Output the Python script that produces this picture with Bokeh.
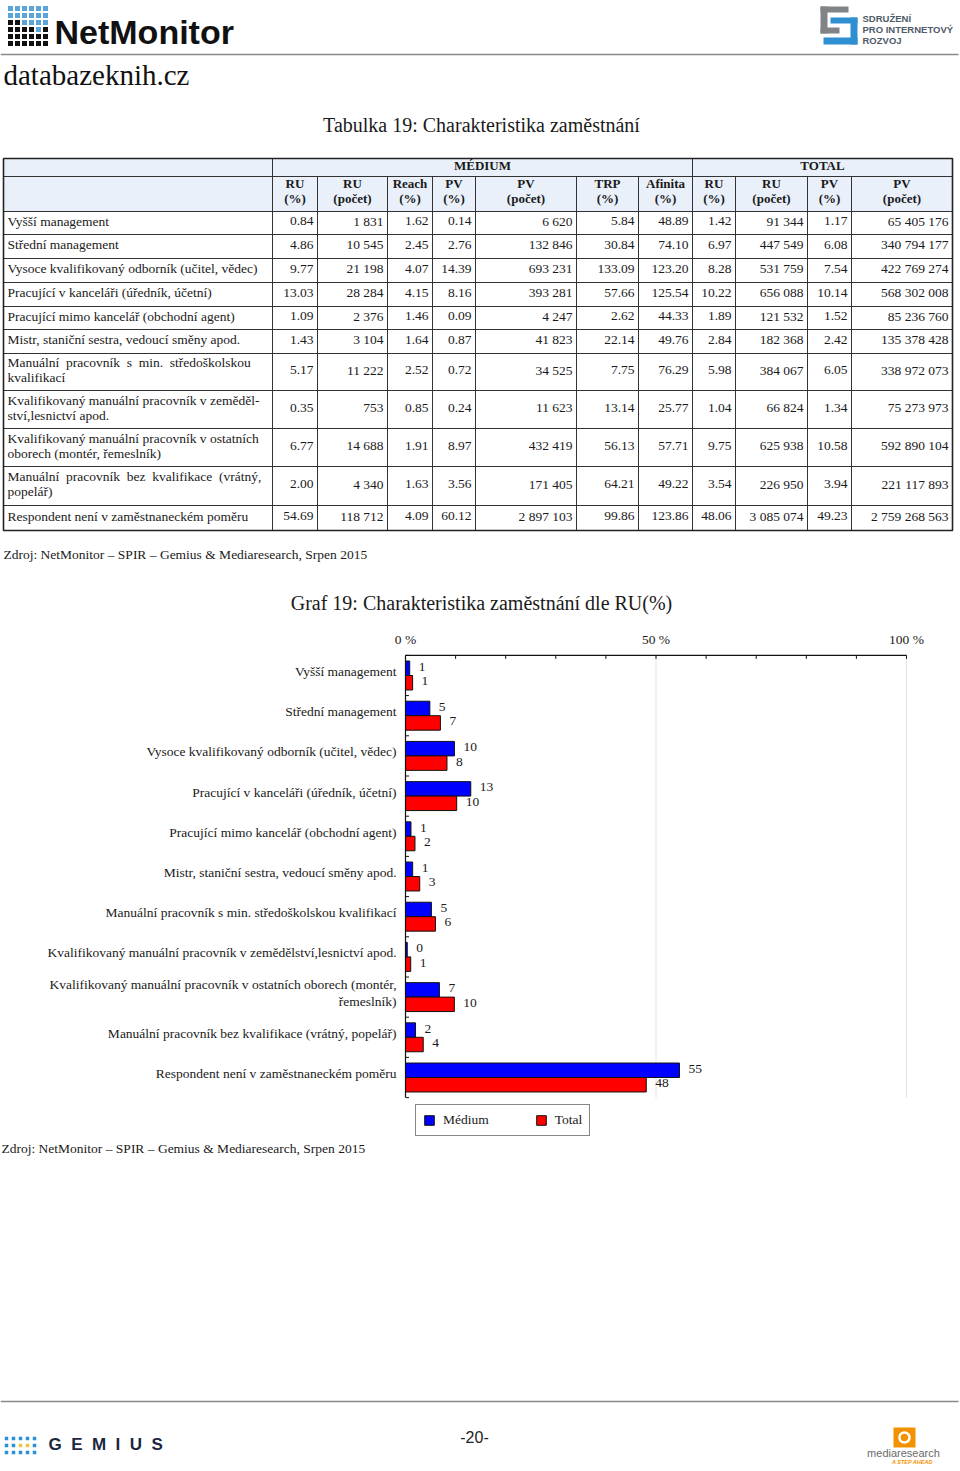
from bokeh.plotting import figure
from bokeh.models import Range1d, ColumnDataSource, Legend, LegendItem
from bokeh.core.properties import value
from bokeh.transform import dodge
from bokeh.embed import file_html
from bokeh.resources import INLINE

# ---------------- data ----------------
categories = [
    "Vyšší management",
    "Střední management",
    "Vysoce kvalifikovaný odborník (učitel, vědec)",
    "Pracující v kanceláři (úředník, účetní)",
    "Pracující mimo kancelář (obchodní agent)",
    "Mistr, staniční sestra, vedoucí směny apod.",
    "Manuální pracovník s min. středoškolskou kvalifikací",
    "Kvalifikovaný manuální pracovník v zemědělství,lesnictví apod.",
    "Kvalifikovaný manuální pracovník v ostatních oborech (montér,\nřemeslník)",
    "Manuální pracovník bez kvalifikace (vrátný, popelář)",
    "Respondent není v zaměstnaneckém poměru",
]
table_labels = [
    "Vyšší management",
    "Střední management",
    "Vysoce kvalifikovaný odborník (učitel, vědec)",
    "Pracující v kanceláři (úředník, účetní)",
    "Pracující mimo kancelář (obchodní agent)",
    "Mistr, staniční sestra, vedoucí směny apod.",
    "Manuální\u00a0 pracovník\u00a0 s\u00a0 min.\u00a0 středoškolskou\nkvalifikací",
    "Kvalifikovaný manuální pracovník v zeměděl-\nství,lesnictví apod.",
    "Kvalifikovaný manuální pracovník v ostatních\noborech (montér, řemeslník)",
    "Manuální\u00a0 pracovník\u00a0 bez\u00a0 kvalifikace\u00a0 (vrátný,\npopelář)",
    "Respondent není v zaměstnaneckém poměru",
]
medium_ru_pct = [0.84, 4.86, 9.77, 13.03, 1.09, 1.43, 5.17, 0.35, 6.77, 2.00, 54.69]
medium_ru_cnt = [1831, 10545, 21198, 28284, 2376, 3104, 11222, 753, 14688, 4340, 118712]
medium_reach = [1.62, 2.45, 4.07, 4.15, 1.46, 1.64, 2.52, 0.85, 1.91, 1.63, 4.09]
medium_pv_pct = [0.14, 2.76, 14.39, 8.16, 0.09, 0.87, 0.72, 0.24, 8.97, 3.56, 60.12]
medium_pv_cnt = [6620, 132846, 693231, 393281, 4247, 41823, 34525, 11623, 432419, 171405, 2897103]
medium_trp = [5.84, 30.84, 133.09, 57.66, 2.62, 22.14, 7.75, 13.14, 56.13, 64.21, 99.86]
medium_afinita = [48.89, 74.10, 123.20, 125.54, 44.33, 49.76, 76.29, 25.77, 57.71, 49.22, 123.86]
total_ru_pct = [1.42, 6.97, 8.28, 10.22, 1.89, 2.84, 5.98, 1.04, 9.75, 3.54, 48.06]
total_ru_cnt = [91344, 447549, 531759, 656088, 121532, 182368, 384067, 66824, 625938, 226950, 3085074]
total_pv_pct = [1.17, 6.08, 7.54, 10.14, 1.52, 2.42, 6.05, 1.34, 10.58, 3.94, 49.23]
total_pv_cnt = [65405176, 340794177, 422769274, 568302008, 85236760, 135378428, 338972073,
                75273973, 592890104, 221117893, 2759268563]
header_labels = ["RU\n(%)", "RU\n(počet)", "Reach\n(%)", "PV\n(%)", "PV\n(počet)", "TRP\n(%)",
                 "Afinita\n(%)", "RU\n(%)", "RU\n(počet)", "PV\n(%)", "PV\n(počet)"]
axis_ticks = [0, 50, 100]
axis_tick_labels = ["0 %", "50 %", "100 %"]

SERIF = "Liberation Serif"
SANS = "Liberation Sans"
INK = "#1a1a1a"
FS = 13.5
TY = -2  # small upward nudge for text baselines

# ---------------- page figure (reference pixel coordinates) ----------------
W, H = 960, 1471
p = figure(width=W, height=H, x_range=Range1d(0, W), y_range=Range1d(H, 0),
           output_backend="svg", toolbar_location=None, x_axis_location=None,
           y_axis_location=None, min_border=0)
p.min_border_left = p.min_border_right = p.min_border_top = p.min_border_bottom = 0
p.grid.visible = False
p.outline_line_color = None
p.background_fill_color = "white"


def txt(x, y, s, size, font=SERIF, align="left", baseline="middle", color=INK, style="normal", **kw):
    p.text(x=[x], y=[y], text=[s], text_font=value(font), text_font_size=f"{size}px",
           text_align=align, text_baseline=baseline, text_color=color, text_font_style=style,
           y_offset=TY, **kw)


# ---- header logos ----
blue_cells = []
black_cells = []
for r in range(6):
    for c in range(6):
        cx, cy = 10 + c * 7, 8 + r * 7
        if r < 2 or (r == 2 and c >= 2) or (r == 3 and c in (4,)):
            blue_cells.append((cx, cy))
        else:
            black_cells.append((cx, cy))
p.rect(x=[a for a, b in blue_cells], y=[b for a, b in blue_cells], width=5, height=5,
       fill_color="#5aa5d8", line_color=None)
p.rect(x=[a for a, b in black_cells], y=[b for a, b in black_cells], width=5, height=5,
       fill_color="#111111", line_color=None)
txt(54, 33, "NetMonitor", 34, font=SANS, style="bold", color="#111111")
p.segment(x0=[0], y0=[54], x1=[958], y1=[54], line_color="#8a8a8a", line_width=1.5)
txt(3, 76, "databazeknih.cz", 29, color="#111111")

# SPIR logo
p.quad(left=[820, 820, 820], right=[848, 827, 839], top=[6, 6, 27], bottom=[12, 33, 33],
       fill_color="#808488", line_color=None)
p.quad(left=[830, 850, 823], right=[857, 857, 857], top=[17, 17, 37], bottom=[23, 44, 44],
       fill_color="#2f8fd2", line_color=None)
txt(862, 20, "SDRUŽENÍ", 9.5, font=SANS, style="bold", color="#4e5b68")
txt(862, 31, "PRO INTERNETOVÝ", 9.5, font=SANS, style="bold", color="#4e5b68")
txt(862, 42, "ROZVOJ", 9.5, font=SANS, style="bold", color="#4e5b68")

# ---- table ----
txt(481, 126, "Tabulka 19: Charakteristika zaměstnání", 20, align="center")

col_x = [3, 272, 317, 387, 432, 475, 576, 638, 692, 735, 807, 851, 952]
head_y = [158, 176, 211]
row_y = [211, 234, 258, 282, 306, 329, 353, 390, 428, 466, 505, 530]

p.quad(left=[col_x[0]], right=[col_x[-1]], top=[head_y[0]], bottom=[head_y[-1]],
       fill_color="#e9f0fa", line_color=None)

hy = head_y + row_y[1:]
p.segment(x0=[col_x[0]] * len(hy), y0=hy, x1=[col_x[-1]] * len(hy), y1=hy,
          line_color="#333333", line_width=1)
p.segment(x0=[3, 272, 692, 952], y0=[158] * 4, x1=[3, 272, 692, 952], y1=[176] * 4,
          line_color="#333333", line_width=1)
p.segment(x0=col_x, y0=[176] * len(col_x), x1=col_x, y1=[530] * len(col_x),
          line_color="#333333", line_width=1)
p.quad(left=[3], right=[952], top=[158], bottom=[530], fill_color=None,
       line_color="#222222", line_width=1.6)

txt((272 + 692) / 2, 167, "MÉDIUM", 13, style="bold", align="center")
txt((692 + 952) / 2, 167, "TOTAL", 13, style="bold", align="center")
for i, lab in enumerate(header_labels):
    cx = (col_x[i + 1] + col_x[i + 2]) / 2
    top, bot = lab.split("\n")
    txt(cx, 185, top, 13, style="bold", align="center")
    txt(cx, 200, bot, 13, style="bold", align="center")


def fmt_int(n):
    return f"{n:,}".replace(",", " ")


def fmt_f(v):
    return f"{v:.2f}"


columns = [
    [fmt_f(v) for v in medium_ru_pct],
    [fmt_int(v) for v in medium_ru_cnt],
    [fmt_f(v) for v in medium_reach],
    [fmt_f(v) for v in medium_pv_pct],
    [fmt_int(v) for v in medium_pv_cnt],
    [fmt_f(v) for v in medium_trp],
    [fmt_f(v) for v in medium_afinita],
    [fmt_f(v) for v in total_ru_pct],
    [fmt_int(v) for v in total_ru_cnt],
    [fmt_f(v) for v in total_pv_pct],
    [fmt_int(v) for v in total_pv_cnt],
]
row_mid = [(row_y[k] + row_y[k + 1]) / 2 for k in range(len(table_labels))]
for k, lab in enumerate(table_labels):
    parts = lab.split("\n")
    if len(parts) == 1:
        txt(7, row_mid[k], parts[0], FS)
    else:
        txt(7, row_mid[k] - 7.5, parts[0], FS)
        txt(7, row_mid[k] + 7.5, parts[1], FS)
for ci, col in enumerate(columns):
    xr = col_x[ci + 2] - 4
    p.text(x=[xr] * len(col), y=row_mid, text=col, text_font=value(SERIF), text_font_size=f"{FS}px",
           text_align="right", text_baseline="middle", text_color=INK, y_offset=TY)

txt(3, 556, "Zdroj: NetMonitor – SPIR – Gemius & Mediaresearch, Srpen 2015", FS)

# ---- bar chart ----
txt(481, 604, "Graf 19: Charakteristika zaměstnání dle RU(%)", 20, align="center")

px0, px100 = 405.0, 906.0
sc = (px100 - px0) / 100.0
xs = -px0 / sc
p.extra_x_ranges = {"pct": Range1d(xs, xs + W / sc)}
cy0, step = 675.0, 40.2
p.extra_y_ranges = {"cat": Range1d((H - cy0) / step, (0 - cy0) / step)}

n = len(categories)
src = ColumnDataSource(dict(
    idx=list(range(n)), cat=categories,
    medium=medium_ru_pct, total=total_ru_pct,
    mlab=[str(round(v)) for v in medium_ru_pct],
    tlab=[str(round(v)) for v in total_ru_pct],
))
R = dict(x_range_name="pct", y_range_name="cat")

p.segment(x0=axis_ticks[1:], y0=[-0.5] * 2, x1=axis_ticks[1:], y1=[n - 0.5] * 2,
          line_color="#e4e4e4", line_width=1, **R)

bh = 0.36
rb = p.hbar(y=dodge("idx", -bh / 2), left=0, right="medium", height=bh, source=src,
            fill_color="#0000ff", line_color="#111111", line_width=1, **R)
rr = p.hbar(y=dodge("idx", bh / 2), left=0, right="total", height=bh, source=src,
            fill_color="#ff0000", line_color="#111111", line_width=1, **R)
p.text(x="medium", y=dodge("idx", -bh / 2), text="mlab", source=src, x_offset=9, y_offset=-1.5,
       text_font=value(SERIF), text_font_size=f"{FS}px", text_align="left",
       text_baseline="middle", text_color=INK, **R)
p.text(x="total", y=dodge("idx", bh / 2), text="tlab", source=src, x_offset=9, y_offset=-1.5,
       text_font=value(SERIF), text_font_size=f"{FS}px", text_align="left",
       text_baseline="middle", text_color=INK, **R)

p.segment(x0=[0], y0=[-0.5], x1=[100], y1=[-0.5], line_color="#111111", line_width=1.2, **R)
p.segment(x0=[0], y0=[-0.5], x1=[0], y1=[n - 0.5], line_color="#111111", line_width=1.2, **R)
tick_x = list(range(0, 101, 10))
p.segment(x0=tick_x, y0=[-0.5] * len(tick_x), x1=tick_x, y1=[-0.5 + 3.5 / step] * len(tick_x),
          line_color="#111111", line_width=1, **R)
bnd = [k - 0.5 for k in range(n + 1)]
p.segment(x0=[0] * len(bnd), y0=bnd, x1=[3.5 / sc] * len(bnd), y1=bnd,
          line_color="#111111", line_width=1, **R)
p.text(x=axis_ticks, y=[-0.5] * 3, text=axis_tick_labels, y_offset=-16,
       text_font=value(SERIF), text_font_size=f"{FS}px", text_align="center",
       text_baseline="middle", text_color=INK, **R)
p.text(x=0, y="idx", text="cat", source=src, x_offset=-9, y_offset=-4,
       text_font=value(SERIF), text_font_size=f"{FS}px", text_align="right",
       text_baseline="middle", text_color=INK, text_line_height=1.15, **R)

legend = Legend(items=[LegendItem(label="Médium", renderers=[rb]),
                       LegendItem(label="Total", renderers=[rr])],
                orientation="horizontal", location=(415, H - 1136),
                border_line_color="#111111", border_line_width=1.5,
                padding=7, spacing=46, glyph_width=12, glyph_height=12, label_height=14,
                label_standoff=8, label_text_font=SERIF, label_text_font_size=f"{FS}px",
                label_text_color=INK, margin=0, background_fill_color="white")
p.add_layout(legend)

txt(1, 1150, "Zdroj: NetMonitor – SPIR – Gemius & Mediaresearch, Srpen 2015", FS)

# ---- footer ----
p.segment(x0=[0], y0=[1401], x1=[958], y1=[1401], line_color="#8a8a8a", line_width=1.5)
gx, gy, gc = [], [], []
for r in range(3):
    for c in range(5):
        gx.append(6 + c * 7)
        gy.append(1438 + r * 7)
        gc.append("#e8c640" if (r == 1 and c in (2, 3)) else "#2d8fd5")
p.rect(x=gx, y=gy, width=3.5, height=3.5, fill_color=gc, line_color=None)
NB = "\u00a0"
txt(48, 1446, (NB * 2).join("GEMIUS"), 17, font=SANS, color="#1b2740", style="bold")
txt(474, 1438, "-20-", 16, font=SANS, align="center", color="#222222")
p.quad(left=[893], right=[915], top=[1427], bottom=[1447], fill_color="#f39200", line_color=None)
p.scatter(x=[904], y=[1437], size=10, marker="circle", fill_color=None, line_color="white",
          line_width=2.5)
txt(903, 1454, "mediaresearch", 11, font=SANS, align="center", color="#6a6a6a")
txt(912, 1463, "A STEP AHEAD", 5.5, font=SANS, align="center", color="#f39200", style="bold italic")

open("out.html", "w").write(file_html(p, INLINE))
